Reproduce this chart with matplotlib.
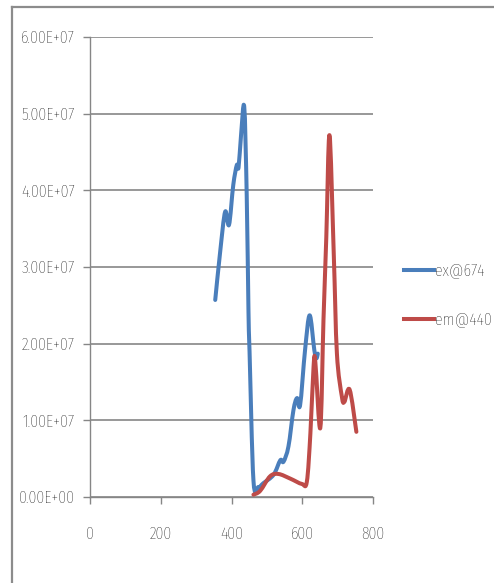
import matplotlib
matplotlib.use('Agg')
import matplotlib.pyplot as plt
import numpy as np
from matplotlib.lines import Line2D
from matplotlib.path import Path
from matplotlib.patches import PathPatch

# Excitation spectrum (emission monitored at 674 nm)
ex_wavelength = [354, 368, 382, 393, 405, 415, 420, 427, 436, 443, 448, 451,
                 462, 476, 490, 519, 538, 547, 561, 575, 585, 594, 608, 621,
                 634, 640, 644]
ex_intensity = [2.57e7, 3.20e7, 3.72e7, 3.55e7, 4.07e7, 4.33e7, 4.30e7, 4.72e7,
                5.09e7, 3.94e7, 2.42e7, 1.90e7, 0.22e7, 0.13e7, 0.18e7, 0.29e7,
                0.48e7, 0.46e7, 0.66e7, 1.13e7, 1.29e7, 1.20e7, 1.92e7, 2.37e7,
                1.92e7, 1.81e7, 1.87e7]

# Emission spectrum (excitation at 440 nm)
em_wavelength = [462, 481, 509, 533, 566, 599, 613, 623, 632, 637, 651, 660,
                 668, 677, 689, 698, 712, 719, 734, 753]
em_intensity = [0.03e7, 0.08e7, 0.27e7, 0.30e7, 0.24e7, 0.17e7, 0.20e7, 0.83e7,
                1.70e7, 1.76e7, 0.90e7, 2.31e7, 3.39e7, 4.72e7, 3.18e7, 1.87e7,
                1.31e7, 1.24e7, 1.40e7, 0.85e7]

series_labels = ['ex@674', 'em@440']
x_ticks = [0, 200, 400, 600, 800]
x_tick_labels = ['0', '200', '400', '600', '800']
y_ticks = [0, 1e7, 2e7, 3e7, 4e7, 5e7, 6e7]
y_tick_labels = ['0.00E+00', '1.00E+07', '2.00E+07', '3.00E+07',
                 '4.00E+07', '5.00E+07', '6.00E+07']


def smooth_path(xs, ys):
    # cubic Bezier through every point (Excel-style "smoothed line")
    pts = np.column_stack([xs, ys]).astype(float)
    ext = np.vstack([pts[0], pts, pts[-1]])
    verts = [pts[0]]
    codes = [Path.MOVETO]
    for i in range(1, len(ext) - 2):
        p0, p1, p2, p3 = ext[i - 1], ext[i], ext[i + 1], ext[i + 2]
        verts += [p1 + (p2 - p0) / 6, p2 - (p3 - p1) / 6, p2]
        codes += [Path.CURVE4] * 3
    return Path(verts, codes)


plt.rcParams['font.family'] = ['Fira Sans Extra Condensed', 'Roboto Condensed', 'DejaVu Sans']
plt.rcParams['font.weight'] = 'light'

fig = plt.figure(figsize=(4.94, 5.83), dpi=100)
fig.patch.set_facecolor('white')
ax = fig.add_axes([90 / 494, 1 - 497 / 583, 283 / 494, 460 / 583])

grid_color = '#868686'
text_color = '#000000'
colors = ['#4A7EBB', '#BE4B48']
for xs, ys, c in [(ex_wavelength, ex_intensity, colors[0]),
                  (em_wavelength, em_intensity, colors[1])]:
    ax.add_patch(PathPatch(smooth_path(xs, ys), facecolor='none', edgecolor=c,
                           lw=2.9, joinstyle='round', capstyle='round', zorder=3))

ax.set_xlim(0, 800)
ax.set_ylim(0, 6e7)
ax.set_xticks(x_ticks, x_tick_labels)
ax.set_yticks(y_ticks, y_tick_labels)
ax.grid(axis='y', color=grid_color, lw=1.2)
ax.set_axisbelow(True)

for side in ['top', 'right']:
    ax.spines[side].set_visible(False)
for side in ['left', 'bottom']:
    ax.spines[side].set_color(grid_color)
    ax.spines[side].set_linewidth(1.0)

ax.tick_params(axis='y', length=5, width=1, color=grid_color, pad=6,
               labelsize=12.5, labelcolor=text_color)
ax.tick_params(axis='x', length=5, width=1, color=grid_color, pad=16,
               labelsize=12.5, labelcolor=text_color)

handles = [Line2D([], [], color=c, lw=2.9) for c in colors]
fig.legend(handles, series_labels, loc='center left',
           bbox_to_anchor=(404 / 494, 1 - 296 / 583),
           frameon=False, fontsize=12.5, handlelength=1.7, handletextpad=0.1,
           labelspacing=1.9, labelcolor=text_color, borderaxespad=0, borderpad=0)

# Chart-area frame (top and left edges)
frame_color = '#8C8C8C'
fig.add_artist(Line2D([12 / 494, 1.0], [1 - 7 / 583, 1 - 7 / 583],
                      transform=fig.transFigure, color=frame_color, lw=1.6))
fig.add_artist(Line2D([12 / 494, 12 / 494], [0, 1 - 7 / 583],
                      transform=fig.transFigure, color=frame_color, lw=1.6))

fig.savefig('out.png', dpi=100, facecolor='white')
